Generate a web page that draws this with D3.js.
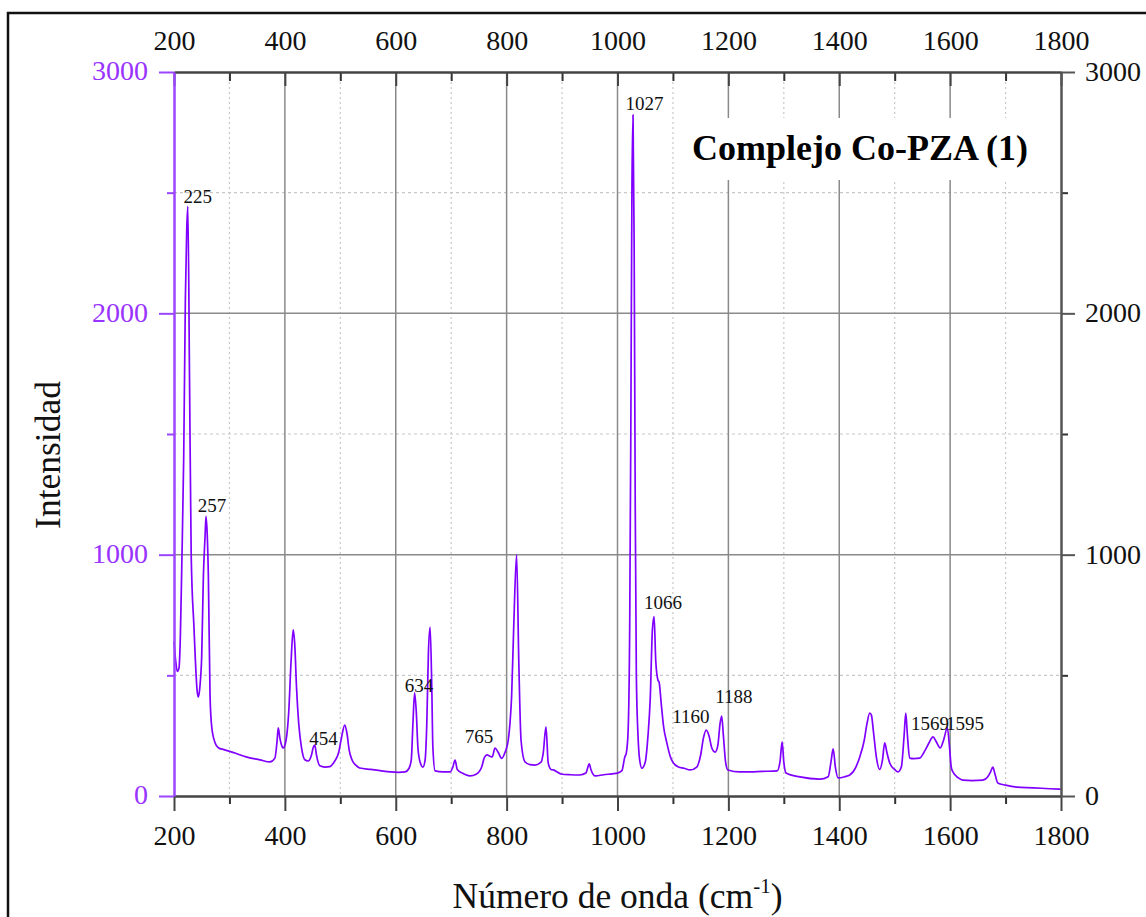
<!DOCTYPE html>
<html>
<head>
<meta charset="utf-8">
<script src="https://cdn.jsdelivr.net/npm/d3@7"></script>
<style>
  body { margin: 0; background: #fff; }
  svg { display: block; }
  text { font-family: "Liberation Serif", "Times New Roman", serif; }
</style>
</head>
<body>
<svg id="chart" width="1146" height="917"></svg>
<script>
// ---------------- data ----------------
const wavenumber = [
  200, 203, 206, 209, 211.5, 214, 217.5, 220.5, 223, 225, 228, 231, 236, 242, 244, 247, 250, 253, 256, 257.7,
  260, 262, 265, 268, 274, 280, 290, 310, 330, 355, 373, 382, 386, 388, 391, 395, 397, 402, 407, 411,
  415, 418, 421, 425, 430, 436, 442, 448, 451, 454, 457, 463, 472, 481, 490, 497, 502, 508, 512, 516,
  521, 528, 535, 555, 572, 590, 605, 617, 624, 628, 631, 634, 637, 640, 644, 649, 653, 656, 659, 662,
  665, 667, 671, 685, 698, 703, 707, 711, 720, 734, 745, 755, 760, 765, 770, 774, 779, 785, 791, 797,
  803, 806, 809, 813, 818, 822, 826, 833, 842, 851, 862, 866, 871, 875, 880, 884, 900, 915, 932, 943,
  946, 949, 952, 960, 975, 990, 1000, 1008, 1013, 1016, 1019, 1022, 1024, 1026, 1028, 1030, 1032, 1034, 1037, 1040,
  1044, 1050, 1055, 1059, 1063, 1066, 1069, 1073, 1075, 1079, 1083, 1089, 1095, 1100, 1110, 1120, 1131, 1143, 1150, 1155,
  1160, 1165, 1170, 1176, 1181, 1185, 1188, 1191, 1195, 1199, 1220, 1239, 1260, 1288, 1293, 1297, 1300, 1304, 1329, 1365,
  1380, 1385, 1389, 1393, 1398, 1410, 1419, 1430, 1437, 1445, 1450, 1455, 1458, 1462, 1467, 1473, 1478, 1482, 1486, 1491,
  1500, 1506, 1512, 1517, 1520, 1523, 1527, 1535, 1545, 1555, 1563, 1569, 1575, 1582, 1588, 1595, 1599, 1602, 1605, 1615,
  1623, 1640, 1659, 1668, 1673, 1677, 1681, 1686, 1700, 1720, 1750, 1780, 1800
];
const intensity = [
  640, 560, 516, 530, 664, 950, 1402, 2057, 2350, 2443, 1730, 1000, 700, 430, 410, 460, 582, 910, 1074, 1159,
  1080, 910, 418, 287, 221, 200, 192, 178, 162, 150, 141, 157, 230, 282, 240, 205, 199, 230, 350, 550,
  688, 620, 450, 300, 200, 150, 145, 170, 200, 211, 170, 125, 120, 122, 145, 180, 240, 294, 260, 190,
  150, 128, 116, 110, 105, 100, 98, 100, 115, 150, 300, 427, 350, 200, 140, 120, 150, 300, 600, 700,
  450, 200, 104, 100, 100, 120, 149, 110, 95, 83, 90, 120, 160, 170, 165, 162, 198, 180, 156, 180,
  232, 300, 412, 717, 999, 551, 232, 142, 130, 128, 140, 178, 287, 137, 110, 108, 90, 88, 87, 95,
  115, 133, 110, 83, 88, 92, 95, 105, 160, 180, 260, 700, 1500, 2500, 2822, 2300, 1200, 500, 250, 150,
  115, 140, 250, 400, 690, 743, 560, 480, 472, 380, 290, 220, 165, 140, 120, 115, 108, 120, 170, 240,
  273, 250, 200, 182, 210, 300, 331, 250, 140, 108, 100, 100, 102, 104, 140, 224, 140, 95, 79, 70,
  80, 140, 195, 120, 75, 80, 87, 120, 162, 230, 300, 344, 335, 260, 160, 110, 150, 220, 180, 137,
  110, 100, 120, 250, 344, 250, 157, 155, 157, 190, 225, 245, 225, 199, 230, 282, 200, 120, 100, 75,
  66, 64, 66, 80, 100, 120, 90, 54, 45, 37, 34, 30, 28
];

const xMajorTicks = [200, 400, 600, 800, 1000, 1200, 1400, 1600, 1800];
const xMinorTicks = [300, 500, 700, 900, 1100, 1300, 1500, 1700];
const yMajorTicks = [0, 1000, 2000, 3000];
const yMinorTicks = [500, 1500, 2500];

const peakText = ["225", "257", "454", "634", "765", "1027", "1066", "1160", "1188", "1569", "1595"];
const peakLabelX = [243, 268.5, 469.5, 642, 750, 1048.5, 1082, 1132.5, 1210, 1563.5, 1627];
const peakLabelY = [2457, 1177, 211, 431, 220, 2843, 775, 302, 385, 274, 274];

const titleText = "Complejo Co-PZA (1)";
const xTitle = "Número de onda (cm";
const xTitleSup = "-1";
const yTitle = "Intensidad";

(function () {
const svg = d3.select("#chart");
const mLeft = 174, mRight = 1061, mTop = 72, mBottom = 796;
const x = d3.scaleLinear().domain([200, 1800]).range([mLeft, mRight]);
const y = d3.scaleLinear().domain([0, 3000]).range([mBottom, mTop]);

const purple = "#8000ff";
const axisPurple = "#9b45ff";
const serif = '"Liberation Serif", "Times New Roman", serif';

svg.append("rect").attr("width", 1146).attr("height", 917).attr("fill", "#fff");

svg.append("rect")
  .attr("x", 8).attr("y", 13).attr("width", 1160).attr("height", 940)
  .attr("fill", "none").attr("stroke", "#111").attr("stroke-width", 2.5);

const grid = svg.append("g");
grid.append("g").selectAll("line").data(xMinorTicks).join("line")
  .attr("x1", d => x(d)).attr("x2", d => x(d)).attr("y1", mTop).attr("y2", mBottom)
  .attr("stroke", "#c8c8c8").attr("stroke-width", 1.2).attr("stroke-dasharray", "2,3");
grid.append("g").selectAll("line").data(yMinorTicks).join("line")
  .attr("y1", d => y(d)).attr("y2", d => y(d)).attr("x1", mLeft).attr("x2", mRight)
  .attr("stroke", "#c8c8c8").attr("stroke-width", 1.2).attr("stroke-dasharray", "3,3");
grid.append("g").selectAll("line").data(xMajorTicks.slice(1, -1)).join("line")
  .attr("x1", d => x(d)).attr("x2", d => x(d)).attr("y1", mTop).attr("y2", mBottom)
  .attr("stroke", "#8a8a8a").attr("stroke-width", 1.5);
grid.append("g").selectAll("line").data(yMajorTicks.slice(1, -1)).join("line")
  .attr("y1", d => y(d)).attr("y2", d => y(d)).attr("x1", mLeft).attr("x2", mRight)
  .attr("stroke", "#8a8a8a").attr("stroke-width", 1.5);

svg.append("rect").attr("x", 685).attr("y", 118).attr("width", 358).attr("height", 62).attr("fill", "#fff");
svg.append("text").attr("x", 692).attr("y", 160)
  .attr("font-size", 36).attr("font-weight", "bold").attr("fill", "#000")
  .text(titleText);

const pts = wavenumber.map((w, i) => [w, intensity[i]]);
const line = d3.line().x(d => x(d[0])).y(d => y(d[1])).curve(d3.curveMonotoneX);
svg.append("path").datum(pts)
  .attr("d", line).attr("fill", "none")
  .attr("stroke", purple).attr("stroke-width", 1.7).attr("stroke-linejoin", "round");

function styleAxis(g, color, width) {
  g.select(".domain").attr("stroke", color).attr("stroke-width", width);
  g.selectAll(".tick line").attr("stroke", color).attr("stroke-width", 2);
}
const gB = svg.append("g").attr("transform", `translate(0,${mBottom})`)
  .call(d3.axisBottom(x).tickValues(xMinorTicks).tickSize(8).tickFormat(""));
gB.select(".domain").remove();
gB.selectAll(".tick line").attr("stroke", "#333").attr("stroke-width", 2);
const gB2 = svg.append("g").attr("transform", `translate(0,${mBottom})`)
  .call(d3.axisBottom(x).tickValues(xMajorTicks).tickSize(15).tickSizeOuter(0).tickFormat(d3.format("d")));
styleAxis(gB2, "#444", 2.5);
gB2.selectAll(".tick text").attr("y", 49).attr("dy", 0)
  .attr("font-size", 28).attr("font-family", serif).attr("fill", "#111");

const gT = svg.append("g").attr("transform", `translate(0,${mTop})`)
  .call(d3.axisTop(x).tickValues(xMinorTicks).tickSize(-9).tickFormat(""));
gT.select(".domain").remove();
gT.selectAll(".tick line").attr("stroke", "#333").attr("stroke-width", 2);
const gT2 = svg.append("g").attr("transform", `translate(0,${mTop})`)
  .call(d3.axisTop(x).tickValues(xMajorTicks).tickSize(-14).tickSizeOuter(0).tickFormat(d3.format("d")));
styleAxis(gT2, "#444", 2.5);
gT2.selectAll(".tick text").attr("y", -22).attr("dy", 0)
  .attr("font-size", 28).attr("font-family", serif).attr("fill", "#111");

const gR = svg.append("g").attr("transform", `translate(${mRight},0)`)
  .call(d3.axisRight(y).tickValues(yMinorTicks).tickSize(7).tickFormat(""));
gR.select(".domain").remove();
gR.selectAll(".tick line").attr("stroke", "#333").attr("stroke-width", 2);
const gR2 = svg.append("g").attr("transform", `translate(${mRight},0)`)
  .call(d3.axisRight(y).tickValues(yMajorTicks).tickSize(14).tickSizeOuter(0).tickFormat(d3.format("d")));
styleAxis(gR2, "#555", 2.5);
gR2.selectAll(".tick text").attr("x", 24).attr("dy", "0.3em")
  .attr("font-size", 28).attr("font-family", serif).attr("fill", "#111");

const gL = svg.append("g").attr("transform", `translate(${mLeft},0)`)
  .call(d3.axisLeft(y).tickValues(yMinorTicks).tickSize(7).tickFormat(""));
gL.select(".domain").remove();
gL.selectAll(".tick line").attr("stroke", axisPurple).attr("stroke-width", 2);
const gL2 = svg.append("g").attr("transform", `translate(${mLeft},0)`)
  .call(d3.axisLeft(y).tickValues(yMajorTicks).tickSize(15).tickSizeOuter(0).tickFormat(d3.format("d")));
styleAxis(gL2, axisPurple, 2.5);
gL2.selectAll(".tick text").attr("x", -26).attr("dy", "0.28em")
  .attr("font-size", 28).attr("font-family", serif).attr("fill", "#9933ff");

svg.append("g").selectAll("text").data(peakText).join("text")
  .attr("x", (d, i) => x(peakLabelX[i]))
  .attr("y", (d, i) => y(peakLabelY[i]))
  .attr("text-anchor", "middle")
  .attr("font-size", 19).attr("fill", "#111")
  .text(d => d);

const xt = svg.append("text").attr("x", (mLeft + mRight) / 2).attr("y", 908)
  .attr("text-anchor", "middle").attr("font-size", 35.5).attr("fill", "#111");
xt.append("tspan").text(xTitle);
xt.append("tspan").attr("font-size", 21).attr("dy", -15).text(xTitleSup);
xt.append("tspan").attr("dy", 15).text(")");

svg.append("text")
  .attr("transform", "translate(60,455) rotate(-90)")
  .attr("text-anchor", "middle").attr("font-size", 35.5).attr("fill", "#111")
  .text(yTitle);
})();
</script>
</body>
</html>
